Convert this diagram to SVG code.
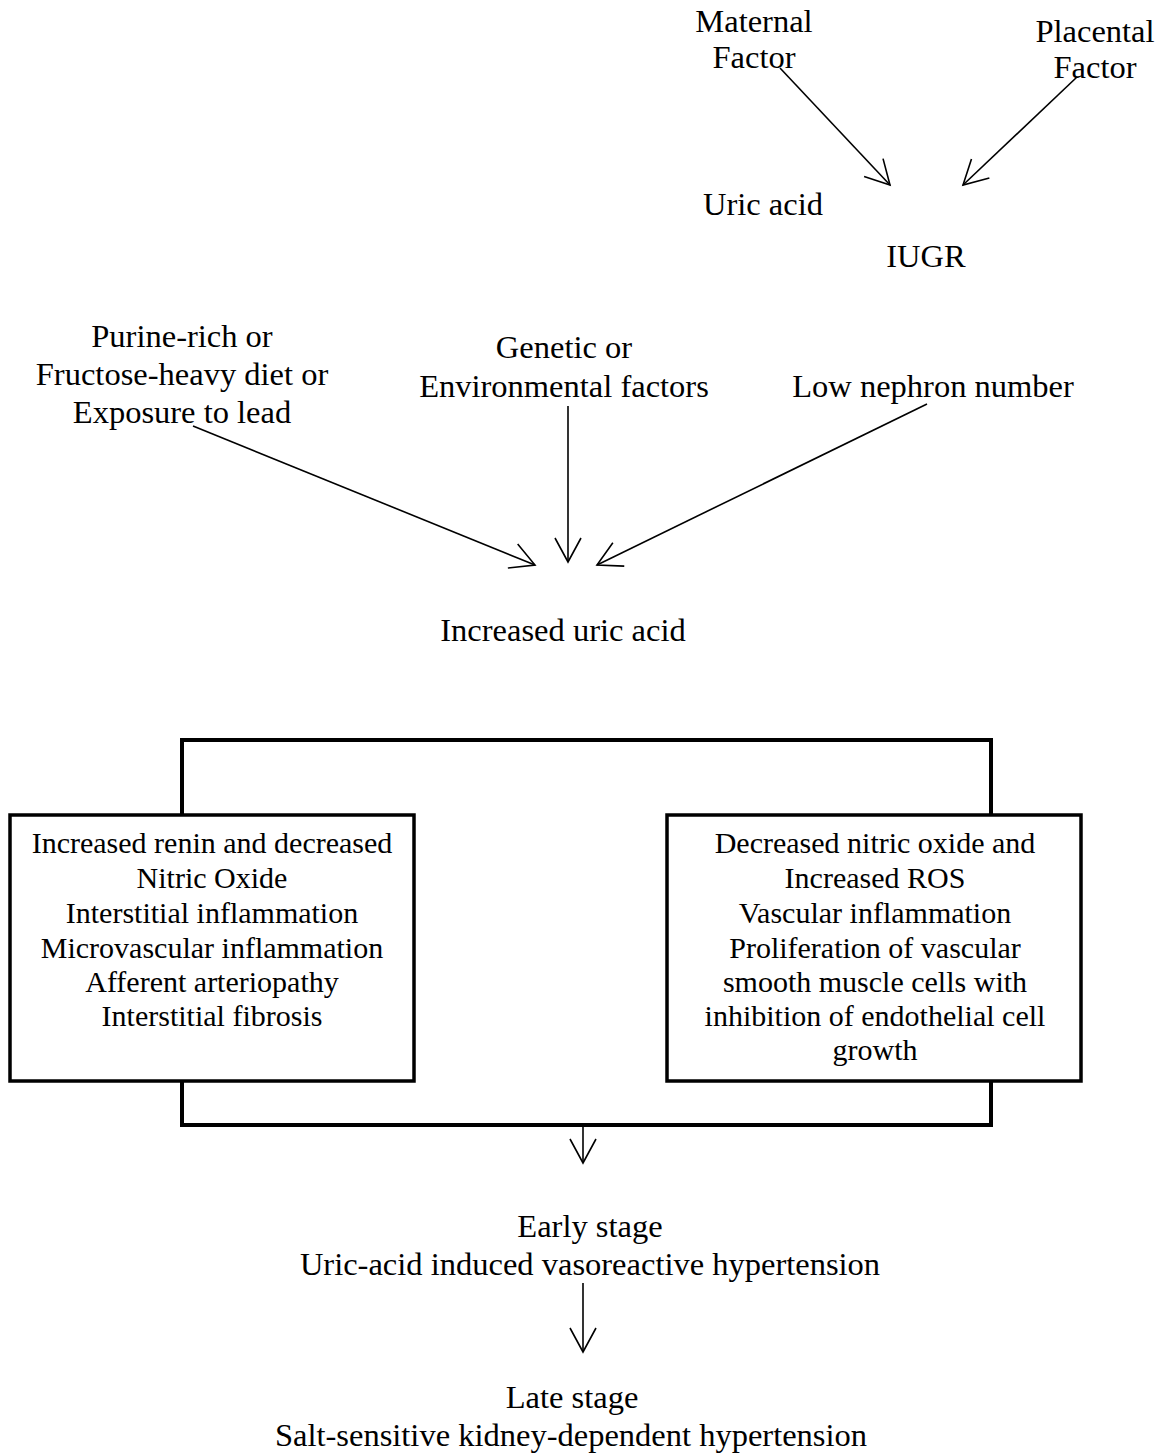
<svg xmlns="http://www.w3.org/2000/svg" width="1164" height="1456" viewBox="0 0 1164 1456">
<style>
text{font-family:"Liberation Serif","Times New Roman",serif;font-size:32.5px;fill:#000;text-anchor:middle}
.bx text{font-size:30px}
.c{stroke:#000;stroke-width:1.6;fill:none}
.f{stroke:#000;stroke-width:4;fill:none}
.b{stroke:#000;stroke-width:3.5;fill:#fff}
</style>
<defs>
<marker id="a" markerUnits="userSpaceOnUse" markerWidth="40" markerHeight="40" refX="30" refY="15" orient="auto" viewBox="0 0 40 30">
<path d="M6,2 L30,15 L6,28" fill="none" stroke="#000" stroke-width="1.6"/>
</marker>
</defs>
<rect width="1164" height="1456" fill="#fff"/>
<g id="connectors">
<line class="c" x1="780" y1="68" x2="890" y2="185" marker-end="url(#a)"/>
<line class="c" x1="1077" y1="77" x2="963" y2="185" marker-end="url(#a)"/>
<line class="c" x1="193" y1="426" x2="535" y2="565" marker-end="url(#a)"/>
<line class="c" x1="568" y1="406" x2="568" y2="562" marker-end="url(#a)"/>
<line class="c" x1="927" y1="404" x2="597" y2="565" marker-end="url(#a)"/>
<path class="f" d="M182,815 V740 H991 V815"/>
<path class="f" d="M182,1081 V1125 H991 V1081"/>
<line class="c" x1="583" y1="1125" x2="583" y2="1163" marker-end="url(#a)"/>
<line class="c" x1="583" y1="1283" x2="583" y2="1352" marker-end="url(#a)"/>
</g>
<g id="maternal"><text x="754" y="32">Maternal</text><text x="754" y="68">Factor</text></g>
<g id="placental"><text x="1095" y="42">Placental</text><text x="1095" y="78">Factor</text></g>
<g id="uric-acid"><text x="763" y="215">Uric acid</text></g>
<g id="iugr"><text x="926" y="267">IUGR</text></g>
<g id="diet"><text x="182" y="347">Purine-rich or</text><text x="182" y="385">Fructose-heavy diet or</text><text x="182" y="423">Exposure to lead</text></g>
<g id="genetic"><text x="564" y="358">Genetic or</text><text x="564" y="397">Environmental factors</text></g>
<g id="nephron"><text x="933" y="397">Low nephron number</text></g>
<g id="increased-uric-acid"><text x="563" y="641">Increased uric acid</text></g>
<g id="renal-box" class="bx">
<rect class="b" x="10" y="815" width="404" height="266"/>
<text x="212" y="853">Increased renin and decreased</text>
<text x="212" y="888">Nitric Oxide</text>
<text x="212" y="923">Interstitial inflammation</text>
<text x="212" y="958">Microvascular inflammation</text>
<text x="212" y="992">Afferent arteriopathy</text>
<text x="212" y="1026">Interstitial fibrosis</text>
</g>
<g id="vascular-box" class="bx">
<rect class="b" x="667" y="815" width="414" height="266"/>
<text x="875" y="853">Decreased nitric oxide and</text>
<text x="875" y="888">Increased ROS</text>
<text x="875" y="923">Vascular inflammation</text>
<text x="875" y="958">Proliferation of vascular</text>
<text x="875" y="992">smooth muscle cells with</text>
<text x="875" y="1026">inhibition of endothelial cell</text>
<text x="875" y="1060">growth</text>
</g>
<g id="early"><text x="590" y="1237">Early stage</text><text x="590" y="1275">Uric-acid induced vasoreactive hypertension</text></g>
<g id="late"><text x="572" y="1408">Late stage</text><text x="571" y="1446">Salt-sensitive kidney-dependent hypertension</text></g>
</svg>
